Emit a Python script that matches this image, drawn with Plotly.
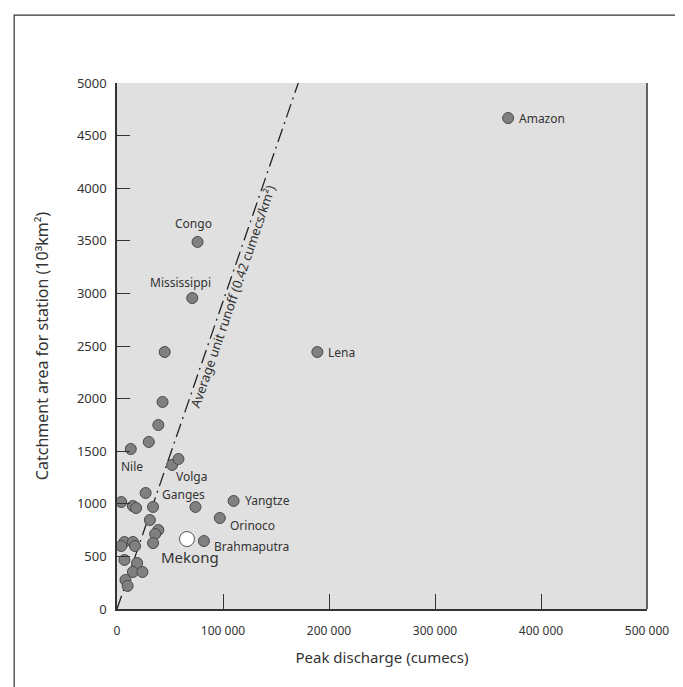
import plotly.graph_objects as go

# ---- data (peak discharge in cumecs, catchment area in 10^3 km^2) ----
river_names = ["Amazon", "Congo", "Mississippi", "Lena", "Nile", "Volga", "Ganges",
               "Yangtze", "Orinoco", "Brahmaputra"]
river_q = [369000, 76000, 71000, 189000, 13000, 58000, 74000, 110000, 97000, 82000]
river_a = [4667, 3489, 2956, 2443, 1521, 1426, 970, 1027, 865, 646]

other_q = [45000, 43000, 39000, 30000, 52000, 27000, 4000, 15000, 18000, 34000,
           31000, 39000, 36000, 34000, 7000, 4000, 15000, 17000, 7000, 19000,
           15000, 24000, 8000, 10000]
other_a = [2443, 1968, 1749, 1588, 1369, 1103, 1017, 979, 960, 970,
           846, 751, 713, 627, 637, 599, 637, 599, 466, 437,
           352, 352, 276, 219]

mekong_q = [66000]
mekong_a = [665]

runoff_q = [0, 171000]
runoff_a = [0, 5000]

x_ticks = [0, 100000, 200000, 300000, 400000, 500000]
x_tick_text = ["0", "100 000", "200 000", "300 000", "400 000", "500 000"]
y_ticks = [0, 500, 1000, 1500, 2000, 2500, 3000, 3500, 4000, 4500, 5000]

# label offsets (pixels) relative to their points
label_style = {
    "Amazon": (9, 0, "left"),
    "Congo": (-4, 18, "center"),
    "Mississippi": (-12, 16, "center"),
    "Lena": (9, 0, "left"),
    "Nile": (1, -18, "center"),
    "Volga": (13, -18, "center"),
    "Ganges": (-12, 12, "center"),
    "Yangtze": (9, 0, "left"),
    "Orinoco": (8, -7, "left"),
    "Brahmaputra": (8, -5, "left"),
}

FONT = "Noto Sans"
TXT = "#333333"

fig = go.Figure()

fig.add_trace(go.Scatter(
    x=runoff_q, y=runoff_a, mode="lines",
    line=dict(color="#222222", width=1.3, dash="14px,5px,2px,5px"),
    hoverinfo="skip", showlegend=False))

marker = dict(size=11, color="#808080", line=dict(color="#4a4a4a", width=1))
fig.add_trace(go.Scatter(x=other_q, y=other_a, mode="markers", marker=marker,
                         showlegend=False))
fig.add_trace(go.Scatter(x=river_q, y=river_a, mode="markers", marker=marker,
                         showlegend=False))
fig.add_trace(go.Scatter(x=mekong_q, y=mekong_a, mode="markers",
                         marker=dict(size=15, color="white",
                                     line=dict(color="#555555", width=1)),
                         showlegend=False))

for name, q, a in zip(river_names, river_q, river_a):
    dx, dy, anc = label_style[name]
    fig.add_annotation(x=q, y=a, text=name, showarrow=False, xshift=dx, yshift=dy,
                       xanchor=anc, yanchor="middle",
                       font=dict(family=FONT, size=12, color=TXT))

fig.add_annotation(x=mekong_q[0], y=mekong_a[0], text="Mekong", showarrow=False,
                   xshift=3, yshift=-18, xanchor="center", yanchor="middle",
                   font=dict(family=FONT, size=15, color=TXT))

fig.add_annotation(x=109000, y=2966, text="Average unit runoff (0.42 cumecs/km²)",
                   showarrow=False, textangle=-71,
                   font=dict(family=FONT, size=13, color=TXT))

# outer frame and right border of plot
fig.add_shape(type="rect", xref="paper", yref="paper",
              x0=-0.194, x1=1.064, y0=-0.16, y1=1.129,
              line=dict(color="#333333", width=1.2), layer="below")
fig.add_shape(type="line", xref="paper", yref="paper", x0=1, x1=1, y0=0, y1=1,
              line=dict(color="#333333", width=1.5))

fig.update_layout(
    width=683, height=687,
    margin=dict(l=109, r=44, t=75, b=86),
    paper_bgcolor="white", plot_bgcolor="#e0e0e0",
    font=dict(family=FONT, color=TXT),
    xaxis=dict(range=[0, 500000], tickvals=x_ticks, ticktext=x_tick_text,
               ticks="inside", ticklen=15, tickcolor="#333333", tickwidth=1,
               showgrid=False, zeroline=False, showline=True,
               linecolor="#333333", linewidth=1.5,
               tickfont=dict(family=FONT, size=12, color=TXT),
               ticklabelstandoff=10,
               title=dict(text="Peak discharge (cumecs)",
                          font=dict(family=FONT, size=15, color=TXT), standoff=14)),
    yaxis=dict(range=[0, 5000], tickvals=y_ticks,
               ticks="inside", ticklen=13, tickcolor="#333333", tickwidth=1,
               showgrid=False, zeroline=False, showline=True,
               linecolor="#333333", linewidth=1.5,
               tickfont=dict(family=FONT, size=13, color=TXT),
               ticklabelstandoff=6,
               title=dict(text="Catchment area for station (10³km²)",
                          font=dict(family=FONT, size=16, color=TXT), standoff=24)),
)

fig.write_html("out.html")
